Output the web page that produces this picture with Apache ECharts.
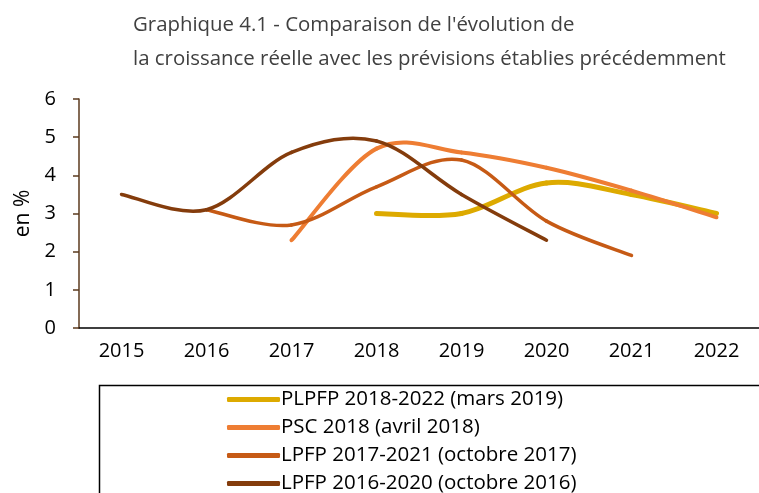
<!DOCTYPE html>
<html>
<head>
<meta charset="utf-8">
<script src="https://cdn.jsdelivr.net/npm/echarts@6/dist/echarts.min.js"></script>
<style>
  html, body { margin: 0; padding: 0; background: #fff; }
  #chart { width: 759px; height: 493px; }
</style>
</head>
<body>
<div id="chart"></div>
<script>
const years = ['2015', '2016', '2017', '2018', '2019', '2020', '2021', '2022']
const yTicks = [0, 1, 2, 3, 4, 5, 6]

const plpfp2018 = [null, null, null, 3.0, 3.0, 3.8, 3.5, 3.0]
const psc2018 = [null, null, 2.3, 4.7, 4.6, 4.2, 3.6, 2.9]
const lpfp2017 = [null, 3.1, 2.7, 3.7, 4.4, 2.8, 1.9, null]
const lpfp2016 = [3.5, 3.1, 4.6, 4.9, 3.5, 2.3, null, null]

const seriesNames = [
  'PLPFP 2018-2022 (mars 2019)',
  'PSC 2018 (avril 2018)',
  'LPFP 2017-2021 (octobre 2017)',
  'LPFP 2016-2020 (octobre 2016)'
]
const seriesData = [plpfp2018, psc2018, lpfp2017, lpfp2016]
const colors = ['#DDAA00', '#EE7D33', '#C65A15', '#843C0C']
const widths = [5, 4, 3.5, 3.5]

const font = '"Open Sans", sans-serif'
const chart = echarts.init(document.getElementById('chart'))

// Excel-like smoothed line: one bezier segment per pair of points,
// control points from the neighbouring points (Catmull-Rom)
const makeRenderer = (arr, color, width) => (params, api) => {
  const k = api.value(0)
  if (arr[k] == null || arr[k + 1] == null) return
  const p0 = api.coord([k, arr[k]])
  const p1 = api.coord([k + 1, arr[k + 1]])
  const pPrev = arr[k - 1] != null ? api.coord([k - 1, arr[k - 1]]) : p0
  const pNext = arr[k + 2] != null ? api.coord([k + 2, arr[k + 2]]) : p1
  return {
    type: 'bezierCurve',
    shape: {
      x1: p0[0], y1: p0[1],
      x2: p1[0], y2: p1[1],
      cpx1: p0[0] + (p1[0] - pPrev[0]) / 6,
      cpy1: p0[1] + (p1[1] - pPrev[1]) / 6,
      cpx2: p1[0] - (pNext[0] - p0[0]) / 6,
      cpy2: p1[1] - (pNext[1] - p0[1]) / 6
    },
    style: { fill: 'none', stroke: color, lineWidth: width, lineCap: 'round' }
  }
}

const option = {
  animation: false,
  title: {
    text: "Graphique 4.1 - Comparaison de l'évolution de\nla croissance réelle avec les prévisions établies précédemment",
    left: 128,
    top: 3,
    textStyle: {
      fontFamily: font,
      fontSize: 20.4,
      fontWeight: 'normal',
      color: '#404040',
      lineHeight: 34
    }
  },
  grid: {
    left: 79,
    right: 0,
    top: 99,
    bottom: 165
  },
  legend: {
    orient: 'vertical',
    left: 222,
    top: 384,
    height: 160,
    icon: 'roundRect',
    itemWidth: 53,
    itemHeight: 5,
    itemGap: 7,
    textStyle: {
      fontFamily: font,
      fontSize: 20.5,
      color: '#000',
      padding: [0, 0, 0, -4]
    },
    data: seriesNames
  },
  graphic: [{
    type: 'rect',
    left: 97,
    top: 383,
    shape: { width: 700, height: 200 },
    style: { fill: 'none', stroke: '#000', lineWidth: 1.5 },
    silent: true
  }],
  xAxis: {
    type: 'category',
    data: years,
    boundaryGap: true,
    axisLine: { lineStyle: { color: '#000', width: 1.5 } },
    axisTick: { alignWithLabel: true, length: 6, lineStyle: { color: '#000', width: 1.5 } },
    axisLabel: {
      fontFamily: font,
      fontSize: 20,
      color: '#000',
      margin: 13
    }
  },
  yAxis: {
    type: 'value',
    min: yTicks[0],
    max: yTicks[yTicks.length - 1],
    interval: 1,
    name: 'en %',
    nameLocation: 'middle',
    nameGap: 44,
    nameRotate: 90,
    nameTextStyle: {
      fontFamily: font,
      fontSize: 21,
      color: '#000'
    },
    axisLine: { show: true, lineStyle: { color: '#5B3A1E', width: 1.5 } },
    axisTick: { show: true, length: 6, lineStyle: { color: '#5B3A1E', width: 1.5 } },
    splitLine: { show: false },
    axisLabel: {
      fontFamily: font,
      fontSize: 20,
      color: '#000',
      margin: 23
    }
  },
  series: seriesNames.map((name, i) => ({
    name: name,
    type: 'custom',
    data: seriesData[i]
      .map((v, k) => [k, v])
      .filter(d => d[1] != null),
    encode: { x: 0, y: 1 },
    itemStyle: { color: colors[i] },
    renderItem: makeRenderer(seriesData[i], colors[i], widths[i])
  }))
}

chart.setOption(option)
</script>
</body>
</html>
